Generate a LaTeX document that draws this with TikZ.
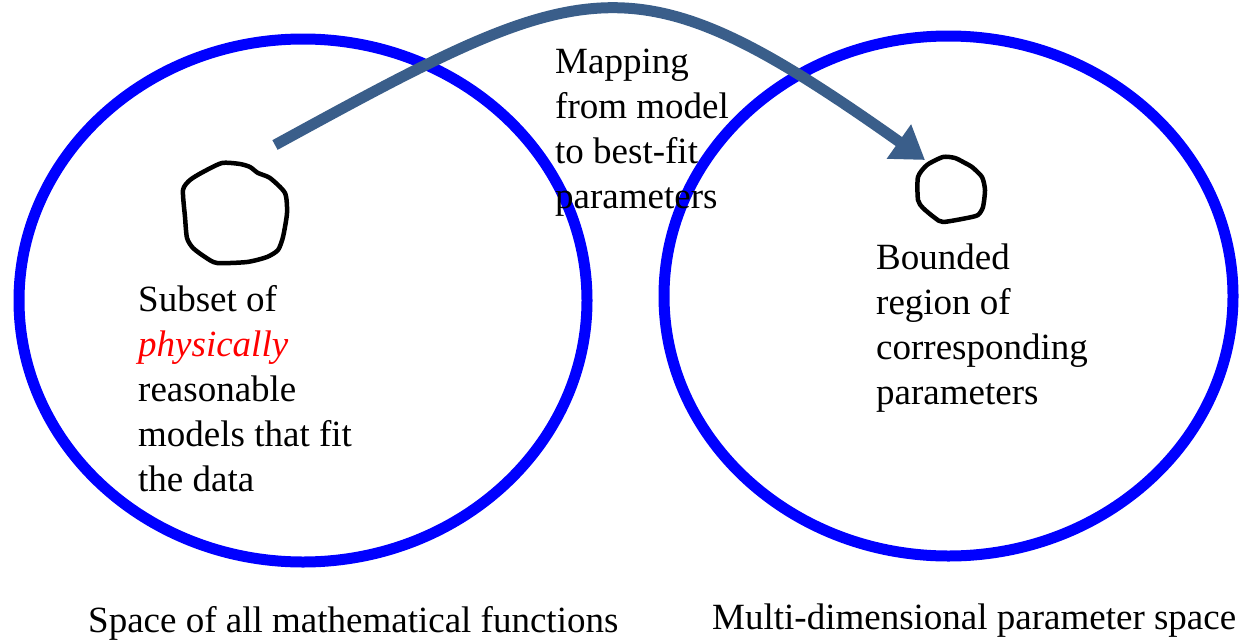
\documentclass[tikz,border=0pt]{standalone}
\usepackage{fontspec}
\setmainfont{Liberation Serif}
\usetikzlibrary{arrows.meta}
\definecolor{ringblue}{RGB}{0,0,255}
\definecolor{arrowblue}{RGB}{58,94,138}
\definecolor{hotred}{RGB}{255,0,0}
\tikzset{
  ring/.style={draw=ringblue, line width=11pt},
  blob/.style={draw=black, line width=4.5pt, line join=round},
  maparrow/.style={draw=arrowblue, line width=11pt, -{Triangle[length=32pt,width=40pt]}},
  txt/.style={anchor=base west, inner sep=0pt, font=\fontsize{37}{45}\selectfont},
}
\begin{document}
\begin{tikzpicture}[x=1pt,y=-1pt]
\useasboundingbox (0,0) rectangle (1245,640);
% ellipses
\draw[ring] (303,300.5) ellipse [x radius=284, y radius=261.5];
\draw[ring] (948.5,296) ellipse [x radius=284.5, y radius=260];
% blobs
\draw[blob] plot[smooth cycle, tension=0.4] coordinates {
  (222,163) (240,164) (250,167) (258,173) (270,178) (285,193) (287,213)
  (283,237) (278,250) (267,257) (247,262) (217,263) (205,257) (193,248)
  (187,238) (185,217) (183,190) (190,180) (203,172)};
\draw[blob] plot[smooth cycle, tension=0.4] coordinates {
  (943,157) (955,158) (965,163) (972,167) (982,177) (985,190) (983,207)
  (978,215) (967,218) (943,222) (935,218) (923,208) (918,200) (918,177)
  (927,165)};
% arrow
\coordinate (src) at (275,145);
\coordinate (dst) at (925,160);
\draw[maparrow] (src) .. controls (590,-27) and (631,-48) .. (dst);
% texts
\node[txt] (m1) at (555,73) {Mapping};
\node[txt] (m2) at (555,118) {from model};
\node[txt] (m3) at (555,163) {to best-fit};
\node[txt] (m4) at (555,208) {parameters};
\node[txt] (l1) at (138,311) {Subset of};
\node[txt, text=hotred] (l2) at (138,356) {\itshape physically};
\node[txt] (l3) at (138,401) {reasonable};
\node[txt] (l4) at (138,446) {models that fit};
\node[txt] (l5) at (138,491) {the data};
\node[txt] (r1) at (876,269) {Bounded};
\node[txt] (r2) at (876,314) {region of};
\node[txt] (r3) at (876,359) {corresponding};
\node[txt] (r4) at (876,404) {parameters};
\node[txt] (b1) at (88,632) {Space of all mathematical functions};
\node[txt] (b2) at (712,629) {Multi-dimensional parameter space};
\end{tikzpicture}
\end{document}
